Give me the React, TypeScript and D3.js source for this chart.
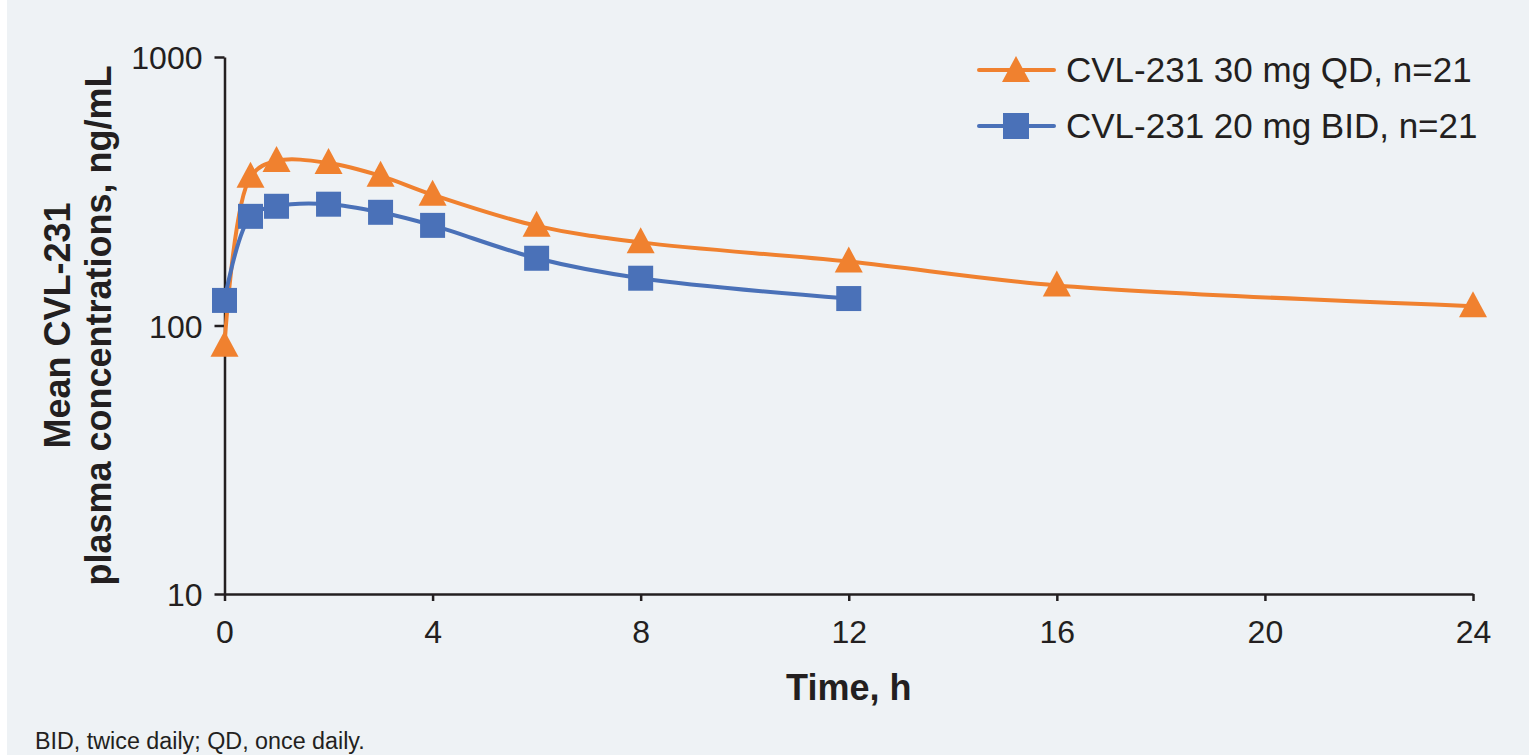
import React, { useEffect, useRef } from 'react'
import * as d3 from 'd3'

// hours after dose
const timesQD = [0, 0.5, 1, 2, 3, 4, 6, 8, 12, 16, 24]
const timesBID = [0, 0.5, 1, 2, 3, 4, 6, 8, 12]
// mean plasma concentration, ng/mL
const valuesQD = [84, 358, 410, 403, 361, 307, 235, 204, 173, 141, 118]
const valuesBID = [124, 255, 278, 283, 264, 236, 178, 150, 126]

const seriesNames = ['CVL-231 30 mg QD, n=21', 'CVL-231 20 mg BID, n=21']
const xTicks = [0, 4, 8, 12, 16, 20, 24]
const yTicks = [10, 100, 1000]

const W = 1529, H = 755
const ORANGE = '#f0812f'
const BLUE = '#4a71b8'
const INK = '#231f20'
const FONT = '"Liberation Sans", Arial, sans-serif'
const triPath = 'M0,-14L14,12L-14,12Z'

export default function App() {
  const ref = useRef<SVGSVGElement>(null)

  useEffect(() => {
    const svg = d3.select(ref.current)
    svg.selectAll('*').remove()

    svg.append('rect').attr('x', 7).attr('y', 0).attr('width', W - 7).attr('height', H).attr('fill', '#eef2f5')

    const x = d3.scaleLinear().domain([0, 24]).range([224.5, 1473])
    const y = d3.scaleLog().domain([10, 1000]).range([594, 57])

    // axes
    const gx = svg.append('g').attr('transform', `translate(0,${y(10)})`)
      .call(d3.axisBottom(x).tickValues(xTicks).tickSize(7).tickSizeOuter(0).tickFormat(d3.format('d')))
    gx.selectAll('text').attr('y', 49).attr('dy', null)

    const gy = svg.append('g').attr('transform', `translate(${x(0)},0)`)
      .call(d3.axisLeft(y).tickValues(yTicks).tickSize(10).tickSizeOuter(0).tickFormat(d3.format('d')))
    gy.selectAll('text').attr('x', -22).attr('dy', '0.36em')

    svg.selectAll('.domain, .tick line').attr('stroke', INK).attr('stroke-width', 2.5)
    svg.selectAll('.tick text').attr('fill', INK).style('font-family', FONT).style('font-size', '32px')

    // axis titles
    svg.append('text').attr('x', x(12)).attr('y', 700).attr('text-anchor', 'middle')
      .style('font-family', FONT).style('font-size', '36px').style('font-weight', 'bold').attr('fill', INK)
      .text('Time, h')
    const yt = svg.append('text').attr('transform', `translate(70,${(y(10) + y(1000)) / 2}) rotate(-90)`)
      .attr('text-anchor', 'middle').style('font-family', FONT).style('font-size', '36px')
      .style('font-weight', 'bold').attr('fill', INK)
    yt.append('tspan').attr('x', 0).attr('dy', 0).text('Mean CVL-231')
    yt.append('tspan').attr('x', 0).attr('dy', 41).text('plasma concentrations, ng/mL')

    const line = d3.line<[number, number]>()
      .x(d => x(d[0])).y(d => y(d[1]))
      .curve(d3.curveCatmullRom.alpha(0.5))

    const qd = timesQD.map((t, i) => [t, valuesQD[i]] as [number, number])
    const bid = timesBID.map((t, i) => [t, valuesBID[i]] as [number, number])

    svg.append('path').attr('d', line(qd)).attr('fill', 'none').attr('stroke', ORANGE).attr('stroke-width', 4)
    svg.append('path').attr('d', line(bid)).attr('fill', 'none').attr('stroke', BLUE).attr('stroke-width', 4)

    svg.append('g').selectAll('path').data(qd).enter().append('path')
      .attr('transform', d => `translate(${x(d[0])},${y(d[1]) - 1})`)
      .attr('d', triPath).attr('fill', ORANGE)

    svg.append('g').selectAll('rect').data(bid).enter().append('rect')
      .attr('x', d => x(d[0]) - 12.5).attr('y', d => y(d[1]) - 12.5)
      .attr('width', 25).attr('height', 25).attr('fill', BLUE)

    // legend
    const lg = svg.append('g')
    const rows = [{ c: ORANGE, yy: 70 }, { c: BLUE, yy: 126 }]
    rows.forEach((r, i) => {
      lg.append('line').attr('x1', 979).attr('x2', 1054).attr('y1', r.yy).attr('y2', r.yy)
        .attr('stroke', r.c).attr('stroke-width', 4).attr('stroke-linecap', 'round')
      if (i === 0) {
        lg.append('path').attr('transform', `translate(1016,${r.yy})`).attr('d', triPath).attr('fill', r.c)
      } else {
        lg.append('rect').attr('x', 1003).attr('y', r.yy - 13).attr('width', 26).attr('height', 26).attr('fill', r.c)
      }
      lg.append('text').attr('x', 1066).attr('y', r.yy + 12).attr('fill', INK)
        .style('font-family', FONT).style('font-size', '35px').text(seriesNames[i])
    })

    svg.append('text').attr('x', 35).attr('y', 749).attr('fill', INK)
      .style('font-family', FONT).style('font-size', '23.3px').text('BID, twice daily; QD, once daily.')
  }, [])

  return (
    <svg ref={ref} width={W} height={H} style={{ position: 'absolute', left: 0, top: 0, background: '#fff' }} />
  )
}
